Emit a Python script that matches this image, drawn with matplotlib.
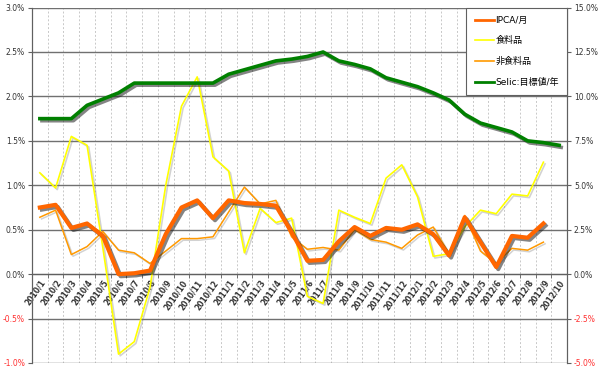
import numpy as np
import matplotlib
matplotlib.use("Agg")
import matplotlib.pyplot as plt
import matplotlib.patheffects as pe
from matplotlib.lines import Line2D

plt.rcParams['font.family'] = ['DejaVu Sans', 'Noto Sans CJK JP']

# 月
months = ["2010/1", "2010/2", "2010/3", "2010/4", "2010/5", "2010/6", "2010/7", "2010/8",
          "2010/9", "2010/10", "2010/11", "2010/12", "2011/1", "2011/2", "2011/3", "2011/4",
          "2011/5", "2011/6", "2011/7", "2011/8", "2011/9", "2011/10", "2011/11", "2011/12",
          "2012/1", "2012/2", "2012/3", "2012/4", "2012/5", "2012/6", "2012/7", "2012/8",
          "2012/9", "2012/10"]

# 左軸 (%/月)
ipca = [0.75, 0.78, 0.52, 0.57, 0.43, 0.00, 0.01, 0.04, 0.45, 0.75, 0.83, 0.63,
        0.83, 0.80, 0.79, 0.77, 0.47, 0.15, 0.16, 0.37, 0.53, 0.43, 0.52, 0.50,
        0.56, 0.45, 0.21, 0.64, 0.36, 0.08, 0.43, 0.41, 0.57]
food = [1.14, 0.97, 1.55, 1.45, 0.30, -0.90, -0.76, -0.15, 1.00, 1.89, 2.22, 1.32,
        1.16, 0.24, 0.74, 0.58, 0.63, -0.25, -0.33, 0.72, 0.64, 0.57, 1.08, 1.23,
        0.87, 0.20, 0.23, 0.53, 0.72, 0.68, 0.90, 0.88, 1.26]
nonfood = [0.64, 0.72, 0.22, 0.31, 0.48, 0.27, 0.24, 0.12, 0.26, 0.40, 0.40, 0.42,
           0.70, 0.98, 0.79, 0.83, 0.42, 0.28, 0.30, 0.27, 0.50, 0.39, 0.36, 0.29,
           0.44, 0.53, 0.23, 0.66, 0.26, 0.12, 0.29, 0.27, 0.36]

# 右軸 Selic (%/年)
selic = [8.75, 8.75, 8.75, 9.50, 9.85, 10.20, 10.75, 10.75, 10.75, 10.75, 10.75, 10.75,
         11.25, 11.50, 11.75, 12.00, 12.10, 12.25, 12.50, 12.00, 11.80, 11.55, 11.05, 10.80,
         10.55, 10.20, 9.80, 9.00, 8.50, 8.25, 8.00, 7.50, 7.40, 7.25]

left_ticks = [-1.0, -0.5, 0.0, 0.5, 1.0, 1.5, 2.0, 2.5, 3.0]
right_ticks = [-5.0, -2.5, 0.0, 2.5, 5.0, 7.5, 10.0, 12.5, 15.0]

fig = plt.figure(figsize=(5.99, 3.71), dpi=100)
ax = fig.add_axes([0.0534, 0.0216, 0.8932, 0.958])
ax2 = ax.twinx()

x = np.arange(len(months))

shadow_big = [pe.SimpleLineShadow(offset=(1.5, -1.5), shadow_color='#202020', alpha=0.55), pe.Normal()]
shadow_small = [pe.SimpleLineShadow(offset=(1.2, -1.2), shadow_color='#808080', alpha=0.35), pe.Normal()]

ax.plot(x[:len(food)], food, color='#FFFF00', lw=1.2, path_effects=shadow_small, zorder=3)
ax.plot(x[:len(nonfood)], nonfood, color='#FF9900', lw=1.1, path_effects=shadow_small, zorder=4)
ax.plot(x[:len(ipca)], ipca, color='#FF6600', lw=3.0, path_effects=shadow_big, zorder=5)
ax2.plot(x, selic, color='#008000', lw=2.6, path_effects=shadow_big, zorder=5)

ax.set_xlim(-0.5, len(months) - 0.5)
ax.set_ylim(-1.0, 3.0)
ax2.set_ylim(-5.0, 15.0)

# grid
for y in left_ticks:
    ax.axhline(y, color='#707070', lw=1.0, zorder=1)
for b in np.arange(0.5, len(months) - 0.5, 1):
    ax.axvline(b, color='#c8c8c8', lw=0.7, ls=(0, (2, 2)), zorder=0)

ax.set_yticks(left_ticks)
ax.set_yticklabels(['%.1f%%' % v for v in left_ticks])
ax2.set_yticks(right_ticks)
ax2.set_yticklabels(['%.1f%%' % v for v in right_ticks])
for lab, v in zip(ax.get_yticklabels(), left_ticks):
    lab.set_color('#ff3030' if v < 0 else '#333333')
for lab, v in zip(ax2.get_yticklabels(), right_ticks):
    lab.set_color('#ff3030' if v < 0 else '#333333')
ax.tick_params(axis='y', labelsize=5.5, length=3, color='#606060', pad=2)
ax2.tick_params(axis='y', labelsize=5.5, length=3, color='#606060', pad=2)

# category axis at 0
ax.spines['bottom'].set_position(('data', 0))
ax.spines['bottom'].set_color('#606060')
ax.set_xticks(x)
ax.set_xticklabels(months, rotation=55, ha='right', va='top', rotation_mode='anchor',
                   fontsize=5.5, fontweight='bold', color='#333333')
ax.set_xticks(np.arange(-0.5, len(months), 1), minor=True)
ax.tick_params(axis='x', which='major', length=0, pad=3)
ax.tick_params(axis='x', which='minor', length=3, color='#606060')
for s in ['top']:
    ax.spines[s].set_visible(False)
    ax2.spines[s].set_visible(False)
ax2.spines['bottom'].set_visible(False)
for s in ['left', 'right']:
    ax.spines[s].set_color('#606060')
    ax2.spines[s].set_color('#606060')

handles = [Line2D([], [], color='#FF6600', lw=2.0),
           Line2D([], [], color='#FFFF00', lw=1.2),
           Line2D([], [], color='#FF9900', lw=1.2),
           Line2D([], [], color='#008000', lw=2.0)]
labels = ['IPCA/月', '食料品', '非食料品', 'Selic:目標値/年']
leg = ax2.legend(handles, labels, loc='upper right', bbox_to_anchor=(1.0, 1.0),
                 borderaxespad=0, fancybox=False, fontsize=6.5, labelspacing=1.3,
                 handlelength=2.2, handletextpad=0.1, borderpad=0.9, framealpha=1)
leg.get_frame().set_edgecolor('#606060')
leg.get_frame().set_linewidth(0.8)

fig.savefig('out.png', dpi=100)
